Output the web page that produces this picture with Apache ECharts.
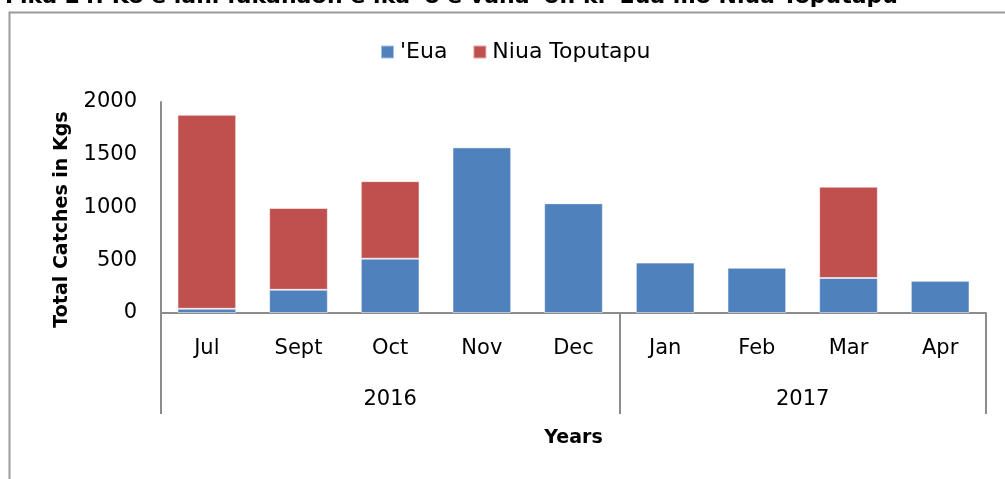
<!DOCTYPE html>
<html>
<head>
<meta charset="utf-8">
<script src="https://cdn.jsdelivr.net/npm/echarts@6/dist/echarts.min.js"></script>
<style>
html,body{margin:0;padding:0;background:#fff;}
#chart{width:1005px;height:479px;}
</style>
</head>
<body>
<div id="chart"></div>
<script>
var months = ['Jul', 'Sept', 'Oct', 'Nov', 'Dec', 'Jan', 'Feb', 'Mar', 'Apr'];
var years = ['2016', '2017'];
var yearSpans = [5, 4];
var euaValues = [40, 220, 515, 1570, 1040, 478, 430, 332, 306];
var niuaValues = [1838, 775, 735, 0, 0, 0, 0, 865, 0];

// year group boundaries and centres, in category index units
var bounds = [-0.5];
var centres = [];
var acc = 0;
yearSpans.forEach(function (n) {
  centres.push(acc + (n - 1) / 2);
  acc += n;
  bounds.push(acc - 0.5);
});

var FONT = '"DejaVu Sans", sans-serif';
var chart = echarts.init(document.getElementById('chart'));
chart.setOption({
  animation: false,
  backgroundColor: '#ffffff',
  graphic: [
    {
      type: 'rect', left: 7, top: 10, z: -1,
      shape: { width: 1100, height: 600 },
      style: { fill: 'none', stroke: '#9a9a9a', lineWidth: 2 }
    },
    {
      type: 'text', left: 5, top: -14,
      style: {
        text: "Fika 24: Ko e lahi fakahaofi e ika 'o e vaha' ofi ki 'Eua mo Niua Toputapu",
        font: 'bold 22px "DejaVu Sans", sans-serif',
        fill: '#000'
      }
    }
  ],
  legend: {
    top: 36,
    left: 375,
    itemWidth: 13,
    itemHeight: 13,
    itemGap: 25,
    icon: 'rect',
    textStyle: { fontFamily: FONT, fontSize: 22, color: '#000', padding: [0, 0, 0, 1] },
    data: ["'Eua", 'Niua Toputapu']
  },
  grid: { left: 161, right: 19, top: 102, bottom: 166, containLabel: false },
  xAxis: [
    {
      type: 'category',
      data: months,
      position: 'bottom',
      axisLine: { show: true, onZero: false, lineStyle: { color: '#8c8c8c', width: 2 } },
      axisTick: { show: false },
      axisLabel: { margin: 25, fontFamily: FONT, fontSize: 21, color: '#000' }
    },
    {
      type: 'value',
      min: -0.5,
      max: 8.5,
      position: 'bottom',
      offset: 0,
      splitLine: { show: false },
      axisLine: { show: false, onZero: false },
      axisTick: { show: true, customValues: bounds, length: 101, inside: false,
                  lineStyle: { color: '#8c8c8c', width: 2 } },
      axisLabel: {
        customValues: centres,
        margin: 76,
        fontFamily: FONT, fontSize: 21, color: '#000',
        formatter: function (v) {
          var i = centres.indexOf(v);
          return i >= 0 ? years[i] : '';
        }
      },
      name: 'Years',
      nameLocation: 'middle',
      nameGap: 116,
      nameTextStyle: { fontFamily: FONT, fontSize: 19, fontWeight: 'bold', color: '#000' }
    }
  ],
  yAxis: {
    type: 'value',
    min: 0,
    max: 2000,
    interval: 500,
    splitLine: { show: false },
    axisLine: { show: true, onZero: false, lineStyle: { color: '#8c8c8c', width: 2 } },
    axisTick: { show: false },
    axisLabel: { margin: 24, fontFamily: FONT, fontSize: 21, color: '#000',
                 formatter: function (v) { return String(v); } },
    name: 'Total Catches in Kgs',
    nameLocation: 'middle',
    nameRotate: 90,
    nameGap: 89,
    nameTextStyle: { fontFamily: FONT, fontSize: 19, fontWeight: 'bold', color: '#000',
                     padding: [0, 24, 0, 0] }
  },
  series: [
    {
      name: "'Eua", type: 'bar', stack: 'total', xAxisIndex: 0,
      data: euaValues, barCategoryGap: '36%',
      itemStyle: { color: '#4F81BD', borderColor: 'rgba(255,255,255,0.5)', borderWidth: 1 }
    },
    {
      name: 'Niua Toputapu', type: 'bar', stack: 'total', xAxisIndex: 0,
      data: niuaValues, barCategoryGap: '36%',
      itemStyle: { color: '#C0504D', borderColor: 'rgba(255,255,255,0.5)', borderWidth: 1 }
    }
  ]
});
</script>
</body>
</html>
